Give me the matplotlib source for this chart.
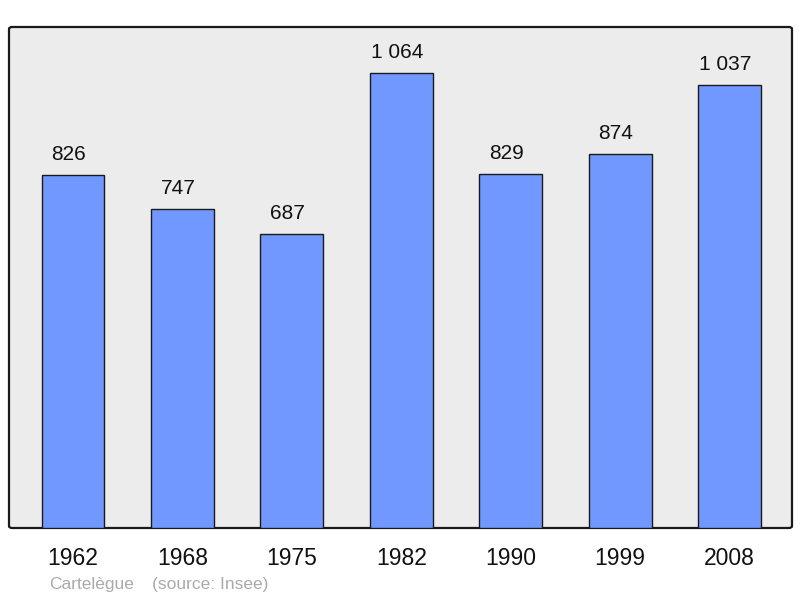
import matplotlib
matplotlib.use("Agg")
import matplotlib.pyplot as plt
from matplotlib.patches import FancyBboxPatch

years = ["1962", "1968", "1975", "1982", "1990", "1999", "2008"]
population = [826, 747, 687, 1064, 829, 874, 1037]
value_labels = ["826", "747", "687", "1 064", "829", "874", "1 037"]

plt.rcParams["font.family"] = ["Liberation Sans", "DejaVu Sans"]

fig = plt.figure(figsize=(8, 5.98), dpi=100)
left, right = 9 / 800, 792 / 800
bottom, top = (598 - 528) / 598, (598 - 27) / 598
ax = fig.add_axes([left, bottom, right - left, top - bottom])
ax.set_facecolor("none")

# rounded background frame
frame = FancyBboxPatch((0, 0), 1, 1, boxstyle="round,pad=0,rounding_size=0.004",
                       transform=ax.transAxes, facecolor="#ececec",
                       edgecolor="#1a1a1a", lw=1.6, zorder=0, clip_on=False)
ax.add_patch(frame)
for s in ax.spines.values():
    s.set_visible(False)

x = range(len(years))
ax.bar(x, population, width=0.575, color="#7098ff", edgecolor="#1a1a1a",
       lw=1.0, zorder=2)
for xi, v, lab in zip(x, population, value_labels):
    ax.annotate(lab, (xi, v), xytext=(-3.2, 8), textcoords="offset points",
                ha="center", va="bottom", fontsize=15, color="#111111")

ax.set_xlim(-0.585, 6.57)
ax.set_ylim(0, 1172)
ax.set_xticks(list(x))
ax.set_xticklabels(years, fontsize=16.5, color="#111111")
ax.tick_params(axis="x", length=0, pad=14)
ax.set_yticks([])

fig.text(49 / 800, 1 - 584 / 598, "Cartelègue",
         fontsize=12.5, color="#aaaaaa", ha="left", va="center")
fig.text(152 / 800, 1 - 584 / 598, "(source: Insee)",
         fontsize=12.5, color="#aaaaaa", ha="left", va="center")

fig.savefig("out.png", dpi=100)
